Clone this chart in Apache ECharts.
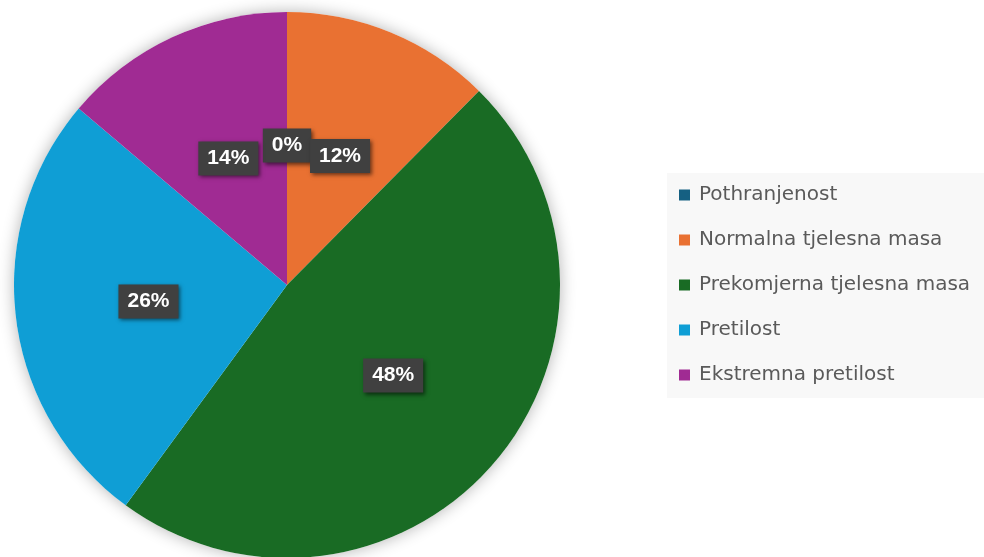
<!DOCTYPE html>
<html>
<head>
<meta charset="utf-8">
<style>
html,body{margin:0;padding:0;background:#ffffff;}
#chart{width:984px;height:557px;}
</style>
<script src="https://cdn.jsdelivr.net/npm/echarts@6/dist/echarts.min.js"></script>
</head>
<body>
<div id="chart"></div>
<script>
const categories = ['Pothranjenost', 'Normalna tjelesna masa', 'Prekomjerna tjelesna masa', 'Pretilost', 'Ekstremna pretilost'];
const values = [0, 12.4, 47.6, 26.1, 13.8];
const colors = ['#156082', '#E97132', '#196B24', '#0F9ED5', '#A02B93'];

const chart = echarts.init(document.getElementById('chart'), null, {renderer: 'canvas'});
const data = categories.map((c, i) => ({name: c, value: values[i], itemStyle: {color: colors[i]}}));

chart.setOption({
  animation: false,
  backgroundColor: '#ffffff',
  legend: {
    orient: 'vertical',
    left: 667,
    top: 173,
    padding: [12, 20, 13, 12],
    backgroundColor: '#f8f8f8',
    itemWidth: 11,
    itemHeight: 11,
    itemGap: 25,
    icon: 'rect',
    data: categories,
    textStyle: {
      fontFamily: 'DejaVu Sans',
      fontSize: 20,
      color: '#5a5a5a',
      lineHeight: 20,
      padding: [0, 0, 0, 4]
    }
  },
  series: [
    {
      type: 'pie',
      silent: true,
      z: 1,
      center: [287, 285],
      radius: 273,
      label: {show: false},
      labelLine: {show: false},
      legendHoverLink: false,
      itemStyle: {color: '#ffffff', shadowBlur: 16, shadowColor: 'rgba(0,0,0,0.3)'},
      data: [{name: '', value: 1}]
    },
    {
      type: 'pie',
      z: 2,
      center: [287, 285],
      radius: 273,
      startAngle: 90,
      clockwise: true,
      avoidLabelOverlap: false,
      minShowLabelAngle: 0,
      data: data,
      labelLayout: {hideOverlap: false},
      label: {
        show: true,
        position: 'inside',
        formatter: p => Math.round(p.percent) + '%',
        color: '#ffffff',
        fontFamily: 'Liberation Sans',
        fontWeight: 'bold',
        fontSize: 21,
        backgroundColor: '#404040',
        padding: [7, 9, 6, 9],
        shadowBlur: 4,
        shadowColor: 'rgba(0,0,0,0.55)',
        shadowOffsetX: 2,
        shadowOffsetY: 2
      },
      labelLine: {show: false},
      itemStyle: {borderWidth: 0}
    }
  ]
});
</script>
</body>
</html>
